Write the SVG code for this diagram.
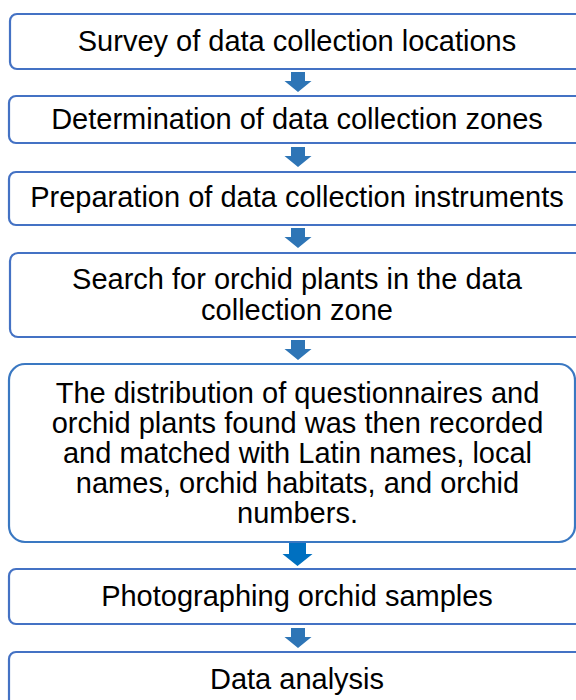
<svg xmlns="http://www.w3.org/2000/svg" width="576" height="700" viewBox="0 0 576 700">
  <style>
    .box { fill: #ffffff; stroke: #4472C4; stroke-width: 2.2; }
    .box5 { stroke: #3A78C2; }
    .label { font-family: "Liberation Sans", Arial, sans-serif; font-size: 29px; fill: #000000; text-anchor: middle; }
    .arrow { fill: #2E75B6; }
    .arrow-big { fill: #0070C0; }
  </style>
  <defs>
    <!-- block arrow pointing down, origin at top of shaft centre -->
    <path id="down" d="M-7,0 h14 v9 h6.5 l-13.5,11 l-13.5,-11 h6.5 z"/>
    <path id="down-big" d="M-8.5,0 h17 v11 h6.5 l-15,12 l-15,-12 h6.5 z"/>
  </defs>
  <rect width="576" height="700" fill="#ffffff"/>

  <g id="connectors">
    <use href="#down" class="arrow" x="298" y="72"/>
    <use href="#down" class="arrow" x="298" y="147"/>
    <use href="#down" class="arrow" x="298" y="228"/>
    <use href="#down" class="arrow" x="298" y="340"/>
    <use href="#down-big" class="arrow-big" x="297.5" y="543"/>
    <use href="#down" class="arrow" x="298" y="628"/>
  </g>

  <g id="step1">
    <rect class="box" x="10" y="14" width="580" height="55" rx="7"/>
    <text class="label" x="297" y="50.5">Survey of data collection locations</text>
  </g>
  <g id="step2">
    <rect class="box" x="9" y="96" width="580" height="47" rx="7"/>
    <text class="label" x="297" y="129">Determination of data collection zones</text>
  </g>
  <g id="step3">
    <rect class="box" x="9" y="172" width="580" height="53" rx="7"/>
    <text class="label" x="297" y="207">Preparation of data collection instruments</text>
  </g>
  <g id="step4">
    <rect class="box" x="10" y="253" width="580" height="84" rx="8"/>
    <text class="label" x="297" y="289">Search for orchid plants in the data</text>
    <text class="label" x="297" y="319.5">collection zone</text>
  </g>
  <g id="step5">
    <rect class="box box5" x="9" y="364" width="566" height="178" rx="16"/>
    <text class="label" x="297.5" y="403">The distribution of questionnaires and</text>
    <text class="label" x="297.5" y="433">orchid plants found was then recorded</text>
    <text class="label" x="297.5" y="463">and matched with Latin names, local</text>
    <text class="label" x="297.5" y="493">names, orchid habitats, and orchid</text>
    <text class="label" x="297.5" y="523">numbers.</text>
  </g>
  <g id="step6">
    <rect class="box" x="9" y="569" width="580" height="55" rx="7"/>
    <text class="label" x="297" y="606">Photographing orchid samples</text>
  </g>
  <g id="step7">
    <rect class="box" x="9" y="652" width="580" height="60" rx="7"/>
    <text class="label" x="297" y="689">Data analysis</text>
  </g>
</svg>
